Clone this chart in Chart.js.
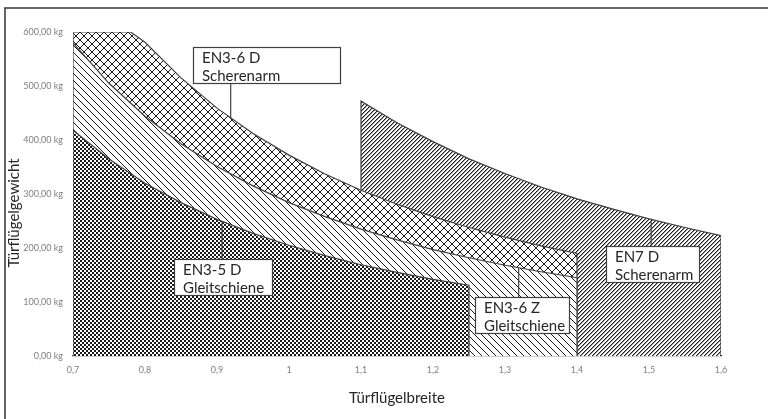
<!DOCTYPE html>
<html>
<head>
<meta charset="utf-8">
<script src="https://cdn.jsdelivr.net/npm/chart.js@4.4.0/dist/chart.umd.min.js"></script>
<style>
  html, body { margin: 0; padding: 0; background: #fff; }
  canvas { display: block; }
</style>
</head>
<body>
<canvas id="doorChart" width="768" height="419"></canvas>
<script>
// Tuerfluegelbreite (m) -> max. Tuerfluegelgewicht (kg), je Geraet
var en35Widths  = [0.7, 0.75, 0.8, 0.85, 0.9, 0.95, 1.0, 1.05, 1.1, 1.15, 1.2, 1.25];
var en35Weights = [418, 365, 320, 284, 253, 227, 205, 186, 169, 155, 142, 131];

var en36zWidths  = [0.7, 0.75, 0.8, 0.85, 0.9, 0.95, 1.0, 1.05, 1.1, 1.15, 1.2, 1.25, 1.3, 1.35, 1.4];
var en36zWeights = [580, 505, 444, 393, 351, 315, 284, 258, 235, 215, 197, 182, 168, 156, 145];

var en36dWidths  = [0.7, 0.78, 0.8, 0.85, 0.9, 0.95, 1.0, 1.05, 1.1, 1.15, 1.2, 1.25, 1.3, 1.35, 1.4];
var en36dWeights = [600, 600, 581, 515, 459, 412, 372, 337, 307, 281, 258, 238, 220, 204, 190];

var en7Widths  = [1.1, 1.15, 1.2, 1.25, 1.3, 1.35, 1.4, 1.45, 1.5, 1.55, 1.6];
var en7Weights = [472, 432, 397, 365, 338, 313, 291, 272, 254, 238, 223];

var xTickLabels = ['0,7', '0,8', '0,9', '1', '1,1', '1,2', '1,3', '1,4', '1,5', '1,6'];
var yTickLabels = ['0,00 kg', '100,00 kg', '200,00 kg', '300,00 kg', '400,00 kg', '500,00 kg', '600,00 kg'];

var lineColor = '#404040';
var textFont = 'Lato, "Open Sans", sans-serif';

// closed outline: drop to 0 at both ends so the vertical edges get stroked
function area(widths, weights) {
  var pts = [{ x: widths[0], y: 0 }];
  for (var i = 0; i < widths.length; i++) {
    pts.push({ x: widths[i], y: weights[i] });
  }
  pts.push({ x: widths[widths.length - 1], y: 0 });
  return pts;
}

// hatch patterns, drawn pixel by pixel on a white ground
function makePattern(size, draw) {
  var c = document.createElement('canvas');
  c.width = size; c.height = size;
  var g = c.getContext('2d');
  g.fillStyle = '#fff';
  g.fillRect(0, 0, size, size);
  g.fillStyle = '#1a1a1a';
  draw(g, size);
  return g.createPattern(c, 'repeat');
}

var ctx = document.getElementById('doorChart').getContext('2d');

var checker = makePattern(4, function (g) {
  g.fillRect(0, 0, 2, 2);
  g.fillRect(2, 2, 2, 2);
});
var fineUp = makePattern(4, function (g, s) {
  for (var i = 0; i < s; i++) g.fillRect(i, s - 1 - i, 1, 1);
  g.fillStyle = '#9a9a9a';
  for (var j = 0; j < s; j++) g.fillRect(j, (s - j) % s, 1, 1);
});
var wideDown = makePattern(7, function (g, s) {
  for (var i = 0; i < s; i++) g.fillRect(i, i, 1, 1);
});
var cross = makePattern(8, function (g, s) {
  for (var i = 0; i < s; i++) {
    g.fillRect(i, i, 1, 1);
    g.fillRect(i, s - 1 - i, 1, 1);
  }
});

// page frame, y-axis title and the label boxes
var decorations = {
  id: 'decorations',
  beforeDraw: function (chart) {
    var c = chart.ctx;
    c.save();
    c.fillStyle = '#fff';
    c.fillRect(0, 0, chart.width, chart.height);
    c.strokeStyle = lineColor;
    c.lineWidth = 1.6;
    c.strokeRect(5, 8, chart.width + 10, chart.height + 10);
    c.restore();
  },
  afterDatasetsDraw: function (chart, args, opts) {
    var c = chart.ctx;
    var xs = chart.scales.x, ys = chart.scales.y;
    c.save();
    c.fillStyle = '#262626';
    c.font = '15px ' + textFont;
    c.textAlign = 'center';
    c.textBaseline = 'middle';
    c.translate(14, 213);
    c.rotate(-Math.PI / 2);
    c.fillText('Türflügelgewicht', 0, 0);
    c.restore();

    opts.callouts.forEach(function (co) {
      var ax = xs.getPixelForValue(co.at[0]);
      var ay = ys.getPixelForValue(co.at[1]);
      var b = co.box;
      c.save();
      c.strokeStyle = lineColor;
      c.lineWidth = 1.2;
      c.beginPath();
      c.moveTo(ax, ay);
      c.lineTo(ax, b.top);
      c.stroke();
      c.fillStyle = '#fff';
      c.fillRect(b.left, b.top, b.width, b.height);
      c.strokeRect(b.left + 0.5, b.top + 0.5, b.width, b.height);
      c.fillStyle = '#262626';
      c.font = '15px ' + textFont;
      c.textAlign = 'left';
      c.textBaseline = 'alphabetic';
      c.fillText(co.lines[0], b.left + 9, b.top + 16);
      c.fillText(co.lines[1], b.left + 9, b.top + 34);
      c.restore();
    });
  }
};

function ds(label, widths, weights, pattern) {
  return {
    label: label,
    data: area(widths, weights),
    backgroundColor: pattern,
    borderColor: lineColor,
    borderWidth: 1.2,
    pointRadius: 0,
    tension: 0,
    fill: 'origin'
  };
}

new Chart(ctx, {
  type: 'line',
  data: {
    datasets: [
      ds('EN3-5 D Gleitschiene', en35Widths, en35Weights, checker),
      ds('EN3-6 Z Gleitschiene', en36zWidths, en36zWeights, wideDown),
      ds('EN3-6 D Scherenarm', en36dWidths, en36dWeights, cross),
      ds('EN7 D Scherenarm', en7Widths, en7Weights, fineUp)
    ]
  },
  plugins: [decorations],
  options: {
    responsive: false,
    animation: false,
    devicePixelRatio: 1,
    layout: { padding: { top: 32, right: 47, left: 0, bottom: 0 } },
    plugins: {
      legend: { display: false },
      tooltip: { enabled: false },
      decorations: {
        callouts: [
          { lines: ['EN3-6 D', 'Scherenarm'], at: [0.919, 440], box: { left: 193, top: 47, width: 147, height: 36 } },
          { lines: ['EN3-5 D', 'Gleitschiene'], at: [0.907, 248], box: { left: 174, top: 259, width: 98, height: 36 } },
          { lines: ['EN3-6 Z', 'Gleitschiene'], at: [1.319, 163], box: { left: 475, top: 297, width: 94, height: 36 } },
          { lines: ['EN7 D', 'Scherenarm'], at: [1.503, 250], box: { left: 606, top: 246, width: 93, height: 36 } }
        ]
      }
    },
    scales: {
      x: {
        type: 'linear',
        min: 0.7,
        max: 1.6,
        afterFit: function (scale) { scale.height = 63; },
        grid: { display: false, drawTicks: false },
        border: { display: true, color: lineColor, width: 1.2 },
        ticks: {
          stepSize: 0.1,
          padding: 9,
          color: '#808080',
          font: { family: textFont, size: 9 },
          maxRotation: 0,
          callback: function (v, i) { return xTickLabels[i]; }
        },
        title: {
          display: true,
          text: 'Türflügelbreite',
          color: '#262626',
          font: { family: textFont, size: 15 },
          padding: { top: 0, bottom: 12 }
        }
      },
      y: {
        min: 0,
        max: 600,
        afterFit: function (scale) { scale.width = 73; },
        grid: { display: false, drawTicks: false },
        border: { display: false },
        ticks: {
          stepSize: 100,
          padding: 10,
          color: '#808080',
          font: { family: textFont, size: 9 },
          callback: function (v, i) { return yTickLabels[i]; }
        }
      }
    }
  }
});
</script>
</body>
</html>
